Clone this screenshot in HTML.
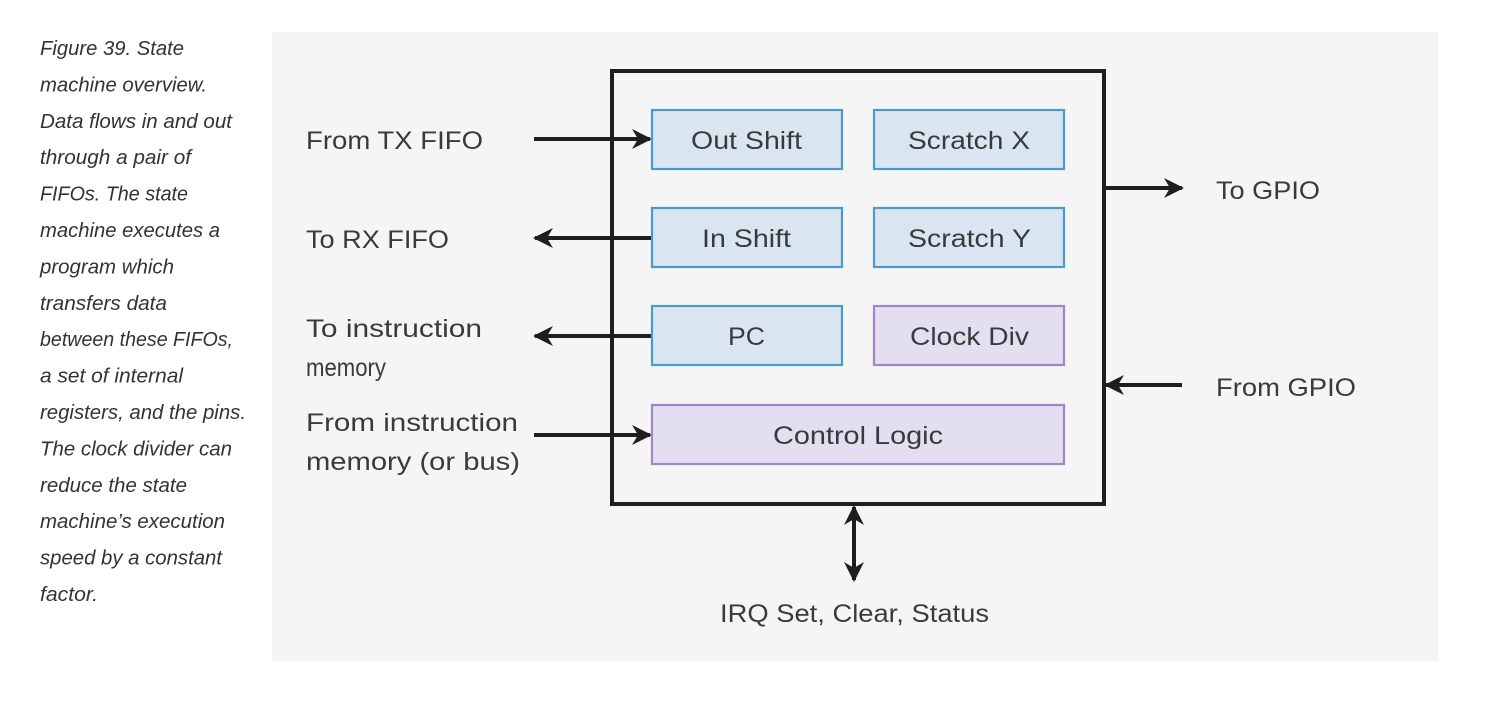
<!DOCTYPE html>
<html><head><meta charset="utf-8"><style>
html,body{margin:0;padding:0;background:#fff;width:1501px;height:720px;overflow:hidden}
svg{display:block}
.c{font-family:"Liberation Sans",sans-serif;font-style:italic;font-size:20px;fill:#333}
.l{font-family:"Liberation Sans",sans-serif;font-size:25px;fill:#3a3a3a}
.b{font-family:"Liberation Sans",sans-serif;font-size:25px;fill:#3a3a3a}
</style></head><body>
<svg width="1501" height="720" viewBox="0 0 1501 720" xmlns="http://www.w3.org/2000/svg">
<defs>
<marker id="ah" viewBox="0 0 10 10" refX="9" refY="5" markerWidth="5" markerHeight="5" orient="auto-start-reverse" markerUnits="strokeWidth">
<path d="M0,0 L10,5 L0,10 L3,5 Z" fill="#1e1e1e"/></marker>
</defs>
<g class="c">
<text x="40" y="55" textLength="144" lengthAdjust="spacingAndGlyphs">Figure 39. State</text>
<text x="40" y="91.4" textLength="167" lengthAdjust="spacingAndGlyphs">machine overview.</text>
<text x="40" y="127.8" textLength="192" lengthAdjust="spacingAndGlyphs">Data flows in and out</text>
<text x="40" y="164.2" textLength="151" lengthAdjust="spacingAndGlyphs">through a pair of</text>
<text x="40" y="200.6" textLength="148" lengthAdjust="spacingAndGlyphs">FIFOs. The state</text>
<text x="40" y="237" textLength="180" lengthAdjust="spacingAndGlyphs">machine executes a</text>
<text x="40" y="273.4" textLength="134" lengthAdjust="spacingAndGlyphs">program which</text>
<text x="40" y="309.8" textLength="127" lengthAdjust="spacingAndGlyphs">transfers data</text>
<text x="40" y="346.2" textLength="193" lengthAdjust="spacingAndGlyphs">between these FIFOs,</text>
<text x="40" y="382.6" textLength="143" lengthAdjust="spacingAndGlyphs">a set of internal</text>
<text x="40" y="419" textLength="206" lengthAdjust="spacingAndGlyphs">registers, and the pins.</text>
<text x="40" y="455.4" textLength="192" lengthAdjust="spacingAndGlyphs">The clock divider can</text>
<text x="40" y="491.8" textLength="147" lengthAdjust="spacingAndGlyphs">reduce the state</text>
<text x="40" y="528.2" textLength="185" lengthAdjust="spacingAndGlyphs">machine’s execution</text>
<text x="40" y="564.6" textLength="182" lengthAdjust="spacingAndGlyphs">speed by a constant</text>
<text x="40" y="601" textLength="58" lengthAdjust="spacingAndGlyphs">factor.</text>
</g>
<rect x="272" y="32" width="1166" height="629" fill="#f5f5f5"/>
<g stroke="#1e1e1e" stroke-width="4" fill="none">
<line x1="534" y1="139" x2="650" y2="139" marker-end="url(#ah)"/>
<line x1="651" y1="238" x2="535" y2="238" marker-end="url(#ah)"/>
<line x1="651" y1="336" x2="535" y2="336" marker-end="url(#ah)"/>
<line x1="534" y1="435" x2="650" y2="435" marker-end="url(#ah)"/>
<line x1="1104" y1="188" x2="1182" y2="188" marker-end="url(#ah)"/>
<line x1="1182" y1="385" x2="1106" y2="385" marker-end="url(#ah)"/>
<line x1="854" y1="507" x2="854" y2="580" marker-start="url(#ah)" marker-end="url(#ah)"/>
</g>
<rect x="612" y="71" width="492" height="433" fill="none" stroke="#1e1e1e" stroke-width="4"/>
<g stroke-width="2.2">
<rect x="652" y="110" width="190" height="59" fill="#dae5f2" stroke="#4b9ac7"/>
<rect x="874" y="110" width="190" height="59" fill="#dae5f2" stroke="#4b9ac7"/>
<rect x="652" y="208" width="190" height="59" fill="#dae5f2" stroke="#4b9ac7"/>
<rect x="874" y="208" width="190" height="59" fill="#dae5f2" stroke="#4b9ac7"/>
<rect x="652" y="306" width="190" height="59" fill="#dae5f2" stroke="#4b9ac7"/>
<rect x="874" y="306" width="190" height="59" fill="#e4dff0" stroke="#9f87c5"/>
<rect x="652" y="405" width="412" height="59" fill="#e4dff0" stroke="#9f87c5"/>
</g>
<g class="b">
<text x="691" y="149" textLength="111" lengthAdjust="spacingAndGlyphs">Out Shift</text>
<text x="908" y="149" textLength="122" lengthAdjust="spacingAndGlyphs">Scratch X</text>
<text x="702" y="247" textLength="89" lengthAdjust="spacingAndGlyphs">In Shift</text>
<text x="908" y="247" textLength="123" lengthAdjust="spacingAndGlyphs">Scratch Y</text>
<text x="728" y="345" textLength="37" lengthAdjust="spacingAndGlyphs">PC</text>
<text x="910" y="345" textLength="119" lengthAdjust="spacingAndGlyphs">Clock Div</text>
<text x="773" y="444" textLength="170" lengthAdjust="spacingAndGlyphs">Control Logic</text>
</g>
<g class="l">
<text x="306" y="149" textLength="177" lengthAdjust="spacingAndGlyphs">From TX FIFO</text>
<text x="306" y="248" textLength="143" lengthAdjust="spacingAndGlyphs">To RX FIFO</text>
<text x="306" y="337" textLength="176" lengthAdjust="spacingAndGlyphs">To instruction</text>
<text x="306" y="376" textLength="80" lengthAdjust="spacingAndGlyphs">memory</text>
<text x="306" y="431" textLength="212" lengthAdjust="spacingAndGlyphs">From instruction</text>
<text x="306" y="470" textLength="214" lengthAdjust="spacingAndGlyphs">memory (or bus)</text>
<text x="1216" y="199" textLength="104" lengthAdjust="spacingAndGlyphs">To GPIO</text>
<text x="1216" y="396" textLength="140" lengthAdjust="spacingAndGlyphs">From GPIO</text>
<text x="720" y="622" textLength="269" lengthAdjust="spacingAndGlyphs">IRQ Set, Clear, Status</text>
</g>
</svg>
</body></html>
